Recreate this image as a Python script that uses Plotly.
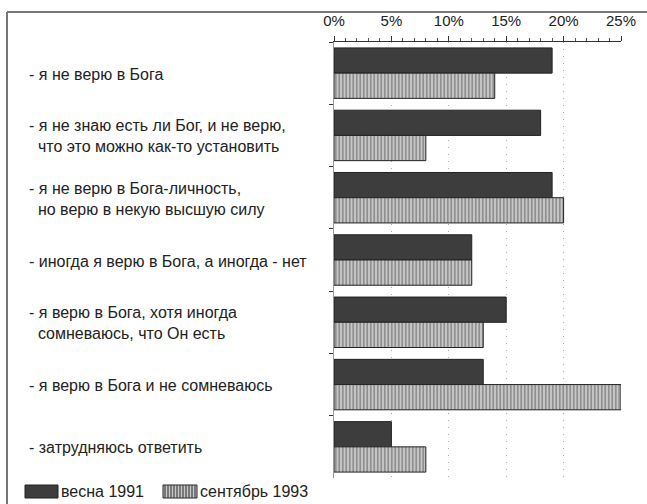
import plotly.graph_objects as go

categories = [
    "- я не верю в Бога",
    "- я не знаю есть ли Бог, и не верю,<br>\u00a0\u00a0что это можно как-то установить",
    "- я не верю в Бога-личность,<br>\u00a0\u00a0но верю в некую высшую силу",
    "- иногда я верю в Бога, а иногда - нет",
    "- я верю в Бога, хотя иногда<br>\u00a0\u00a0сомневаюсь, что Он есть",
    "- я верю в Бога и не сомневаюсь",
    "- затрудняюсь ответить",
]
series_names = ["весна 1991", "сентябрь 1993"]
spring_1991 = [19, 18, 19, 12, 15, 13, 5]
sept_1993 = [14, 8, 20, 12, 13, 25, 8]
x_ticks = [0, 5, 10, 15, 20, 25]

W, H = 647, 504
L, R, T, B = 334, 621, 42, 478
def px(x):
    return (x - L) / (R - L)
def py(y):
    return (B - y) / (B - T)

FONT = "Liberation Sans, Arial, sans-serif"
DARK = "#3d3d3d"

fig = go.Figure()
fig.add_trace(go.Bar(
    y=categories, x=spring_1991, orientation="h", name=series_names[0],
    marker=dict(color=DARK, line=dict(color="#222", width=1)),
    showlegend=False,
))
fig.add_trace(go.Bar(
    y=categories, x=sept_1993, orientation="h", name=series_names[1],
    marker=dict(color="#c8c8c8", line=dict(color="#222", width=1),
                pattern=dict(shape="|", fgcolor="#3a3a3a", bgcolor="#c8c8c8",
                             size=3.5, solidity=0.4)),
    showlegend=False,
))

shapes = []
# outer frame: left and top lines
shapes.append(dict(type="line", xref="paper", yref="paper",
                   x0=px(7), x1=px(7), y0=py(12), y1=py(504),
                   line=dict(color="#777", width=2)))
shapes.append(dict(type="line", xref="paper", yref="paper",
                   x0=px(7), x1=px(647), y0=py(12), y1=py(12),
                   line=dict(color="#777", width=2)))

# legend swatches
sw_y0, sw_y1 = 485, 498
shapes.append(dict(type="rect", xref="paper", yref="paper",
                   x0=px(25), x1=px(58), y0=py(sw_y1), y1=py(sw_y0),
                   fillcolor=DARK, line=dict(color="#222", width=1)))
shapes.append(dict(type="rect", xref="paper", yref="paper",
                   x0=px(163), x1=px(197), y0=py(sw_y1), y1=py(sw_y0),
                   fillcolor="#c8c8c8", line=dict(color="#222", width=1)))
for xs in range(165, 197, 3):
    shapes.append(dict(type="line", xref="paper", yref="paper",
                       x0=px(xs), x1=px(xs), y0=py(sw_y1), y1=py(sw_y0),
                       line=dict(color="#444", width=1.2)))

annotations = []
for c in categories:
    annotations.append(dict(xref="paper", yref="y", x=px(27), y=c,
                            text=c, showarrow=False, xanchor="left",
                            yanchor="middle", align="left", yshift=-1,
                            font=dict(family=FONT, size=16, color="#222")))
annotations.append(dict(xref="paper", yref="paper", x=px(59), y=py(491),
                        text=series_names[0], showarrow=False, xanchor="left",
                        yanchor="middle", font=dict(family=FONT, size=16, color="#222")))
annotations.append(dict(xref="paper", yref="paper", x=px(198), y=py(491),
                        text=series_names[1], showarrow=False, xanchor="left",
                        yanchor="middle", font=dict(family=FONT, size=16, color="#222")))

fig.update_layout(
    width=W, height=H,
    margin=dict(l=L, r=W - R, t=T, b=H - B, pad=0),
    paper_bgcolor="white", plot_bgcolor="white",
    barmode="group", bargap=0.19, bargroupgap=0,
    shapes=shapes, annotations=annotations,
    font=dict(family=FONT, color="#222"),
    xaxis=dict(
        side="top", range=[0, 25], tickvals=x_ticks,
        ticktext=[f"{v}%" for v in x_ticks],
        tickfont=dict(family=FONT, size=15, color="#222"),
        ticklabelstandoff=4,
        showline=True, linecolor="#333", linewidth=1,
        ticks="outside", ticklen=5, tickcolor="#333",
        minor=dict(dtick=1, ticks="outside", ticklen=3, tickcolor="#555", showgrid=False),
        showgrid=True, gridcolor="#aaa", griddash="1px,6px", gridwidth=1,
        zeroline=False, fixedrange=True,
    ),
    yaxis=dict(
        type="category", autorange="reversed", showticklabels=False,
        tickson="boundaries", ticks="outside", ticklen=4, tickcolor="#333",
        showline=True, linecolor="#999", linewidth=1,
        showgrid=False, zeroline=False, fixedrange=True,
    ),
)

fig.write_html("out.html", config={"displayModeBar": False, "staticPlot": True},
               post_script="document.body.style.margin='0';")
